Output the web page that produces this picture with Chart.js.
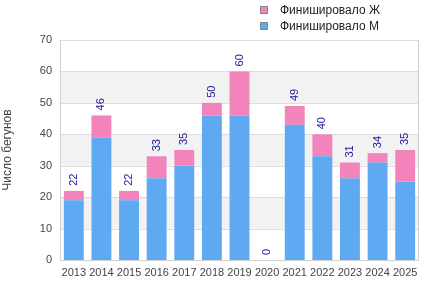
<!DOCTYPE html>
<html>
<head>
<meta charset="utf-8">
<script src="https://cdn.jsdelivr.net/npm/chart.js@4/dist/chart.umd.min.js"></script>
<style>
  html, body { margin: 0; padding: 0; background: #fff; }
  #wrap { position: relative; width: 429px; height: 300px; }
  #legend { position: absolute; left: 260px; top: 2px; font: 12px "Liberation Sans", Arial, sans-serif; color: #222; }
  #legend div { display: flex; align-items: center; height: 16px; }
  #legend span.box { width: 6px; height: 6px; border: 1px solid #888; margin-right: 12px; }
</style>
</head>
<body>
<div id="wrap">
  <canvas id="c" width="429" height="300"></canvas>
  <div id="legend"></div>
</div>
<script>
const years = ['2013','2014','2015','2016','2017','2018','2019','2020','2021','2022','2023','2024','2025'];
const finishedM = [19, 39, 19, 26, 30, 46, 46, 0, 43, 33, 26, 31, 25];
const finishedF = [3, 7, 3, 7, 5, 4, 14, 0, 6, 7, 5, 3, 10];
const seriesNames = ['Финишировало М', 'Финишировало Ж'];
const colorM = '#5fa8f2';
const colorF = '#f283bb';
const FONT = '"Liberation Sans", Arial, sans-serif';

// alternating bands + plot border + rotated totals
const decorPlugin = {
    id: 'decor',
    beforeDatasetsDraw(chart) {
        const ctx = chart.ctx;
        const y = chart.scales.y;
        const area = chart.chartArea;
        ctx.save();
        for (let v = 10; v < 70; v += 20) {
            const top = y.getPixelForValue(v + 10);
            const bot = y.getPixelForValue(v);
            ctx.fillStyle = '#f2f2f2';
            ctx.fillRect(area.left, top, area.right - area.left, bot - top);
        }
        ctx.strokeStyle = '#dddddd';
        ctx.lineWidth = 1;
        for (let v = 10; v <= 70; v += 10) {
            const py = Math.round(y.getPixelForValue(v)) + 0.5;
            ctx.beginPath();
            ctx.moveTo(area.left, py);
            ctx.lineTo(area.right, py);
            ctx.stroke();
        }
        ctx.strokeStyle = '#d0d0d0';
        ctx.beginPath();
        ctx.moveTo(area.left + 0.5, area.top);
        ctx.lineTo(area.left + 0.5, area.bottom + 0.5);
        ctx.lineTo(area.right - 0.5, area.bottom + 0.5);
        ctx.lineTo(area.right - 0.5, area.top);
        ctx.stroke();
        ctx.restore();
    },
    afterDatasetsDraw(chart) {
        const ctx = chart.ctx;
        const meta = chart.getDatasetMeta(1);
        ctx.save();
        ctx.fillStyle = '#1a1a96';
        ctx.font = '11px ' + FONT;
        ctx.textBaseline = 'middle';
        ctx.textAlign = 'left';
        meta.data.forEach((bar, i) => {
            const total = finishedM[i] + finishedF[i];
            ctx.save();
            ctx.translate(bar.x, bar.y - 5);
            ctx.rotate(-Math.PI / 2);
            ctx.fillText(String(total), 0, 0);
            ctx.restore();
        });
        ctx.restore();
    }
};

new Chart(document.getElementById('c'), {
    type: 'bar',
    data: {
        labels: years,
        datasets: [
            { label: seriesNames[0], data: finishedM, backgroundColor: colorM },
            { label: seriesNames[1], data: finishedF, backgroundColor: colorF }
        ]
    },
    options: {
        responsive: false,
        animation: false,
        layout: { padding: { top: 40, right: 10, left: 0, bottom: 0 } },
        datasets: { bar: { barPercentage: 0.72, categoryPercentage: 1 } },
        plugins: { legend: { display: false }, tooltip: { enabled: false } },
        scales: {
            x: {
                stacked: true,
                grid: { display: false, drawTicks: false },
                border: { display: false },
                ticks: { color: '#444', font: { family: FONT, size: 11 }, padding: 6, maxRotation: 0, autoSkip: false },
                afterFit(s) { s.height = 40; }
            },
            y: {
                stacked: true,
                min: 0, max: 70,
                grid: { display: false, drawTicks: false },
                border: { display: false },
                ticks: { stepSize: 10, color: '#444', font: { family: FONT, size: 11 }, padding: 8 },
                title: { display: true, text: 'Число бегунов', color: '#444', font: { family: FONT, size: 12 }, padding: { top: 0, bottom: 0 } },
                afterFit(s) { s.width = 60; }
            }
        }
    },
    plugins: [decorPlugin]
});

// legend: Ж on top, М below
const legendEl = document.getElementById('legend');
[[seriesNames[1], colorF], [seriesNames[0], colorM]].forEach(([name, col]) => {
    legendEl.innerHTML += `<div><span class="box" style="background:${col}"></span>${name}</div>`;
});
</script>
</body>
</html>
